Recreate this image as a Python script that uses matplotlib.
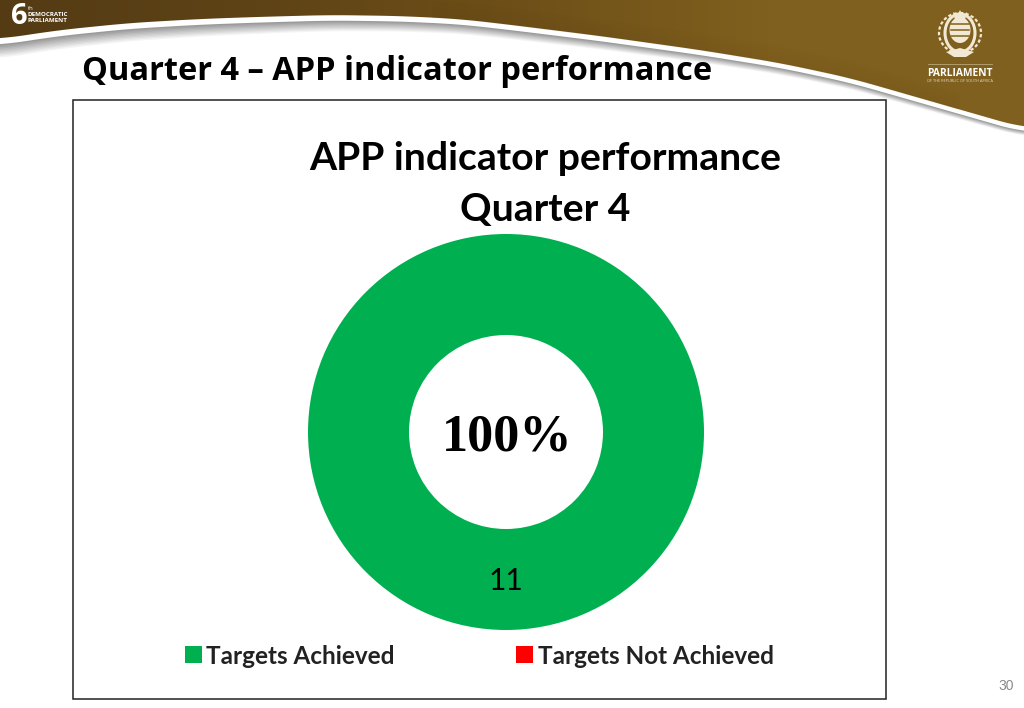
import numpy as np
import matplotlib
matplotlib.use("Agg")
import matplotlib.pyplot as plt
from matplotlib.patches import Rectangle, Polygon, Ellipse
from matplotlib.colors import LinearSegmentedColormap

categories = ["Targets Achieved", "Targets Not Achieved"]
values = [11, 0]
colors = ["#00B050", "#FF0000"]
center_label = "100%"
slide_title = "Quarter 4 – APP indicator performance"
chart_title_lines = ["APP indicator performance", "Quarter 4"]
page = "30"

W, H = 1024, 708
fig = plt.figure(figsize=(W/100, H/100), dpi=100, facecolor="white")

bg = fig.add_axes([0, 0, 1, 1])
bg.set_xlim(0, W); bg.set_ylim(H, 0); bg.axis("off")

ex = np.array([0, 60, 130, 200, 256, 330, 400, 460, 512, 600, 700, 780, 850, 930, 1024])
ey = np.array([39, 30, 23, 19, 17, 15, 16, 19, 25, 36, 50, 63, 78, 101, 128])
xs = np.linspace(0, W, 300)
ys = np.interp(xs, ex, ey)
ys = np.convolve(np.r_[[ys[0]]*7, ys, [ys[-1]]*7], np.ones(15)/15, mode="valid")

# shadow and white swoosh under the banner
taper = np.clip(1 - xs / W, 0, 1)
white_h = 4.5 + 1.5 * taper
shadow_h = 5 + 10 * taper
steps = 10
for i in range(steps, 0, -1):
    f = i / steps
    g = 0.56 + 0.44 * f
    bg.fill_between(xs, ys, ys + white_h + shadow_h * f, color=(g, g, g), lw=0, zorder=1)
bg.fill_between(xs, ys - 1, ys + white_h, color="white", lw=0, zorder=2)

cmap = LinearSegmentedColormap.from_list("b", ["#553b14", "#5e4316", "#6e4f18", "#80601e", "#80601e"])
grad = np.linspace(0, 1, 256).reshape(1, -1)
im = bg.imshow(grad, extent=[0, W, 140, 0], aspect="auto", cmap=cmap, zorder=3)
clip = Polygon(np.r_[[[0, 0]], np.c_[xs, ys], [[W, 0]]], closed=True, transform=bg.transData)
im.set_clip_path(clip)
bg.set_xlim(0, W); bg.set_ylim(H, 0)

# darker band following the banner edge
m = (xs > 430) & (xs < 960)
for i in range(8):
    bg.fill_between(xs[m], ys[m] - 2 - i * 2.2, ys[m] - i * 2.2, color="#4a3410",
                    alpha=0.10 * (1 - i / 8), lw=0, zorder=4)

# logos
tkw = dict(color="white", family="Open Sans", va="center", zorder=6)
bg.text(11, 16, "6", fontsize=21, fontweight="bold", **tkw)
bg.text(28, 8, "th", fontsize=4.2, **tkw)
bg.text(28, 14, "DEMOCRATIC", fontsize=4.5, fontweight="bold", **tkw)
bg.text(28, 21, "PARLIAMENT", fontsize=4.5, fontweight="bold", **tkw)
bg.text(960, 73, "PARLIAMENT", fontsize=7.4, fontweight="bold", ha="center", **tkw)
bg.text(960, 81, "OF THE REPUBLIC OF SOUTH AFRICA", color="#e8dcc0", fontsize=2.8,
        family="Open Sans", va="center", ha="center", zorder=6)
bg.plot([928, 992], [64, 64], color="#b9a678", lw=0.6, zorder=6)
cream = "#f1e9d4"
brown = "#80601e"
bg.add_patch(Ellipse((960, 33), 30, 38, fc="none", ec=cream, lw=2.2, zorder=6))
bg.add_patch(Ellipse((960, 33), 42, 40, fc="none", ec=cream, lw=1.6, ls=(0, (1.5, 1)), zorder=6))
bg.add_patch(Ellipse((960, 30), 21, 26, fc=cream, ec="none", zorder=6))
for yy in (24, 30, 36):
    bg.plot([951, 969], [yy, yy], color=brown, lw=1.1, zorder=7)
bg.add_patch(Polygon([[946, 52], [960, 48], [974, 52], [966, 57], [954, 57]], fc=cream, ec="none", zorder=6))
bg.add_patch(Polygon([[953, 12], [957, 16], [960, 10], [963, 16], [967, 12], [965, 20], [955, 20]], fc=cream, ec="none", zorder=6))

bg.text(82, 71, slide_title, fontsize=23.5, fontweight="bold", family="Open Sans",
        color="black", va="center", ha="left", zorder=5)

# chart frame
bg.add_patch(Rectangle((72.5, 100), 813, 599, fc="white", ec="#222222", lw=1.1, zorder=4.5))
for y, line in zip([158, 209.5], chart_title_lines):
    bg.text(545.5, y, line, fontsize=28.2, fontweight="bold", family="Lato",
            ha="center", va="center", zorder=5)
bg.text(1014, 686, page, fontsize=10, family="Liberation Sans", color="#8a8a8a",
        ha="right", va="center", zorder=5)

# donut
R = 198
cx, cy = 506, 432
ax = fig.add_axes([(cx - R) / W, 1 - (cy + R) / H, 2 * R / W, 2 * R / H], zorder=5)
ax.pie(values, colors=colors, radius=1, startangle=90, counterclock=False,
       wedgeprops=dict(width=1 - 97 / 198, edgecolor="none"))
ax.set_xlim(-1, 1); ax.set_ylim(-1, 1); ax.set_aspect("equal")
ax.text(0.005, -0.03, center_label, fontsize=37.5, fontweight="bold", family="Liberation Serif",
        ha="center", va="center")
ax.text(0, -0.755, str(values[0]), fontsize=21.5, family="Lato", ha="center", va="center")

# legend
fg = fig.add_axes([0, 0, 1, 1], zorder=6)
fg.set_xlim(0, W); fg.set_ylim(H, 0); fg.axis("off")
for x, cat, col in zip([185, 516], categories, colors):
    fg.add_patch(Rectangle((x, 646), 17, 17, fc=col, ec="none"))
    fg.text(x + 21.5, 656.5, cat, fontsize=17.5, fontweight="bold", family="Lato",
            color="#222222", ha="left", va="center")

fig.savefig("out.png", dpi=100)
